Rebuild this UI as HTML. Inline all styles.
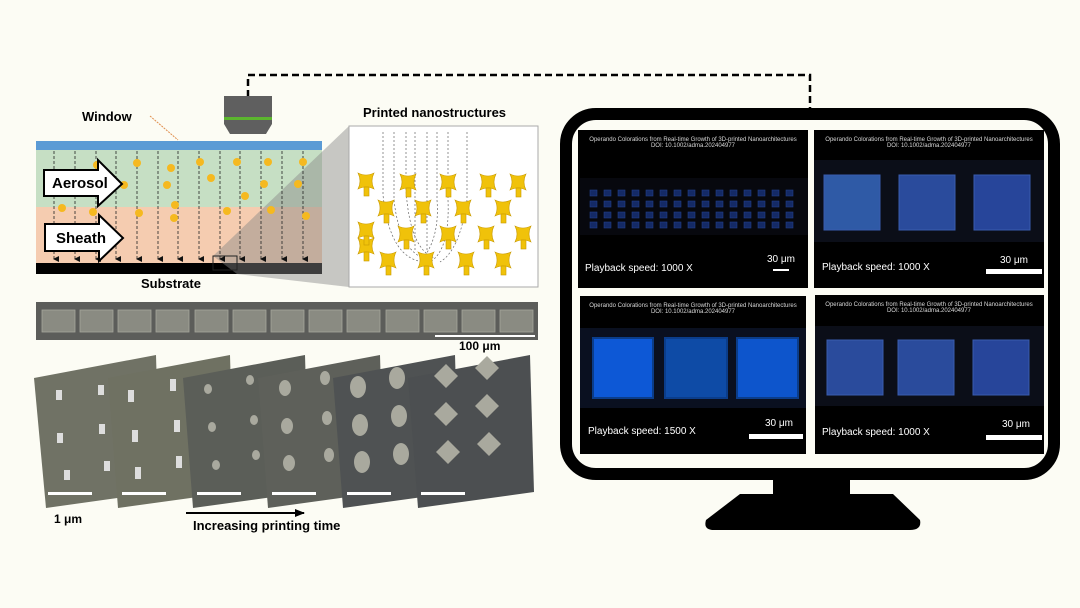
<!DOCTYPE html>
<html><head><meta charset="utf-8"><style>
html,body{margin:0;padding:0;background:#fcfcf4;}
body{width:1080px;height:608px;overflow:hidden;position:relative;font-family:"Liberation Sans",sans-serif;}
svg{position:absolute;left:0;top:0;}
</style></head><body>
<svg width="1080" height="608" viewBox="0 0 1080 608" xmlns="http://www.w3.org/2000/svg" font-family="Liberation Sans, sans-serif">
<defs>
<marker id="ah" markerWidth="6" markerHeight="6" refX="3" refY="5" orient="auto" markerUnits="userSpaceOnUse"><path d="M0,0 L6,0 L3,6 z" fill="#111"/></marker>
<marker id="ar" markerWidth="10" markerHeight="8" refX="9" refY="4" orient="auto" markerUnits="userSpaceOnUse"><path d="M0,0 L10,4 L0,8 z" fill="#000"/></marker>
<g id="s" fill="#f0c20a" stroke="#c99a00" stroke-width="0.6"><path d="M0,0 Q8,4 16,0 Q12,8 16,16 Q8,12 0,16 Q4,8 0,0Z"/><rect x="6" y="14" width="5" height="9"/></g>
</defs>
<!-- dashed connector -->
<path d="M248,97 V75 H810 V108" fill="none" stroke="#000" stroke-width="2.5" stroke-dasharray="7,4"/>
<!-- camera -->
<path d="M224,96 H272 V124 L266,134 H230 L224,124 Z" fill="#5f5f5f"/>
<rect x="224" y="117" width="48" height="3" fill="#5bb52e"/>
<text x="82" y="121" font-size="13" font-weight="bold">Window</text>
<line x1="150" y1="116" x2="178" y2="140" stroke="#e09050" stroke-width="1" stroke-dasharray="2,1"/>
<!-- schematic -->
<rect x="36" y="141" width="286" height="9" fill="#5b9bd5"/>
<rect x="36" y="150" width="286" height="57" fill="#c6dfc4"/>
<rect x="36" y="207" width="286" height="56" fill="#f5ccb0"/>
<rect x="36" y="263" width="286" height="11" fill="#000"/>
<path d="M213,256 L349,126 L349,287 L237,274 Z" fill="#888" opacity="0.45"/>
<rect x="213" y="256" width="24" height="14" fill="none" stroke="#222" stroke-width="1"/>
<g stroke="#222" stroke-width="0.8" stroke-dasharray="3,2" marker-end="url(#ah)">
<line x1="54" y1="151" x2="54" y2="259"/><line x1="75" y1="151" x2="75" y2="259"/><line x1="96" y1="151" x2="96" y2="259"/>
<line x1="116" y1="151" x2="116" y2="259"/><line x1="137" y1="151" x2="137" y2="259"/><line x1="158" y1="151" x2="158" y2="259"/>
<line x1="178" y1="151" x2="178" y2="259"/><line x1="199" y1="151" x2="199" y2="259"/><line x1="220" y1="151" x2="220" y2="259"/>
<line x1="240" y1="151" x2="240" y2="259"/><line x1="261" y1="151" x2="261" y2="259"/><line x1="282" y1="151" x2="282" y2="259"/><line x1="303" y1="151" x2="303" y2="259"/>
</g>
<g fill="#f5b920">
<circle cx="97" cy="165" r="4"/><circle cx="137" cy="163" r="4"/><circle cx="171" cy="168" r="4"/><circle cx="200" cy="162" r="4"/><circle cx="237" cy="162" r="4"/><circle cx="268" cy="162" r="4"/><circle cx="303" cy="162" r="4"/>
<circle cx="124" cy="185" r="4"/><circle cx="167" cy="185" r="4"/><circle cx="211" cy="178" r="4"/><circle cx="264" cy="184" r="4"/><circle cx="298" cy="184" r="4"/><circle cx="245" cy="196" r="4"/>
<circle cx="62" cy="208" r="4"/><circle cx="93" cy="212" r="4"/><circle cx="139" cy="213" r="4"/><circle cx="175" cy="205" r="4"/><circle cx="227" cy="211" r="4"/><circle cx="271" cy="210" r="4"/><circle cx="306" cy="216" r="4"/><circle cx="174" cy="218" r="4"/>
</g>
<path d="M44,170 H98 V160 L122,184 L98,206 V196 H44 Z" fill="#fff" stroke="#000" stroke-width="2"/>
<text x="52" y="188" font-size="15" font-weight="bold">Aerosol</text>
<path d="M45,224 H99 V215 L123,238 L99,261 V251 H45 Z" fill="#fff" stroke="#000" stroke-width="2"/>
<text x="56" y="243" font-size="15" font-weight="bold">Sheath</text>
<text x="141" y="288" font-size="13" font-weight="bold">Substrate</text>
<!-- zoom box -->
<text x="363" y="117" font-size="13" font-weight="bold">Printed nanostructures</text>
<rect x="349" y="126" width="189" height="161" fill="#fff" stroke="#aaa" stroke-width="1"/>
<g stroke="#666" stroke-width="0.7" stroke-dasharray="2,2" fill="none">
<path d="M383,132 V195 Q390,260 425,262"/><path d="M394,132 V200 Q400,255 430,260"/><path d="M406,132 V190 Q410,250 435,258"/>
<path d="M415,132 V250"/><path d="M427,132 V250"/><path d="M437,132 V200 Q440,240 420,262"/><path d="M448,132 V200 Q450,250 430,262"/><path d="M467,132 V200 Q460,250 440,262"/>
</g>
<g>
<use href="#s" x="358" y="238"/>
<use href="#s" x="358" y="173"/><use href="#s" x="400" y="174"/><use href="#s" x="440" y="174"/><use href="#s" x="480" y="174"/><use href="#s" x="510" y="174"/>
<use href="#s" x="378" y="200"/><use href="#s" x="415" y="200"/><use href="#s" x="455" y="200"/><use href="#s" x="495" y="200"/>
<use href="#s" x="398" y="226"/><use href="#s" x="440" y="226"/><use href="#s" x="478" y="226"/><use href="#s" x="515" y="226"/><use href="#s" x="358" y="222"/>
<use href="#s" x="380" y="252"/><use href="#s" x="418" y="252"/><use href="#s" x="458" y="252"/><use href="#s" x="495" y="252"/>
</g>
<!-- SEM strip -->
<rect x="36" y="302" width="502" height="38" fill="#5c5d5a"/>
<g fill="#8a8b82" stroke="#a5a69c" stroke-width="0.8">
<rect x="42" y="310" width="33" height="22"/><rect x="80" y="310" width="33" height="22"/><rect x="118" y="310" width="33" height="22"/><rect x="156" y="310" width="33" height="22"/><rect x="195" y="310" width="33" height="22"/><rect x="233" y="310" width="33" height="22"/><rect x="271" y="310" width="33" height="22"/><rect x="309" y="310" width="33" height="22"/><rect x="347" y="310" width="33" height="22"/><rect x="386" y="310" width="33" height="22"/><rect x="424" y="310" width="33" height="22"/><rect x="462" y="310" width="33" height="22"/><rect x="500" y="310" width="33" height="22"/>
</g>
<rect x="435" y="335" width="100" height="2" fill="#fff"/>
<text x="459" y="350" font-size="12" font-weight="bold">100 μm</text>
<!-- SEM stack -->
<g>
<path d="M34,378 L156,355 L160,492 L46,508 Z" fill="#707265"/>
<path d="M108,378 L230,355 L234,492 L118,508 Z" fill="#6f7162"/>
<path d="M183,378 L305,355 L309,492 L193,508 Z" fill="#5b5e58"/>
<path d="M258,378 L380,355 L384,492 L268,508 Z" fill="#5e605a"/>
<path d="M333,378 L455,355 L459,492 L343,508 Z" fill="#4f5253"/>
<path d="M408,378 L530,355 L534,492 L418,508 Z" fill="#4c4f51"/>
</g>
<g fill="#ddd">
<rect x="56" y="390" width="6" height="10"/><rect x="98" y="385" width="6" height="10"/><rect x="57" y="433" width="6" height="10"/><rect x="99" y="424" width="6" height="10"/><rect x="64" y="470" width="6" height="10"/><rect x="104" y="461" width="6" height="10"/>
<rect x="128" y="390" width="6" height="12"/><rect x="170" y="379" width="6" height="12"/><rect x="132" y="430" width="6" height="12"/><rect x="174" y="420" width="6" height="12"/><rect x="135" y="467" width="6" height="12"/><rect x="176" y="456" width="6" height="12"/>
</g>
<g fill="#a9a99e">
<ellipse cx="208" cy="389" rx="4" ry="5"/><ellipse cx="250" cy="380" rx="4" ry="5"/><ellipse cx="212" cy="427" rx="4" ry="5"/><ellipse cx="254" cy="420" rx="4" ry="5"/><ellipse cx="216" cy="465" rx="4" ry="5"/><ellipse cx="256" cy="455" rx="4" ry="5"/>
<ellipse cx="285" cy="388" rx="6" ry="8"/><ellipse cx="325" cy="378" rx="5" ry="7"/><ellipse cx="287" cy="426" rx="6" ry="8"/><ellipse cx="327" cy="418" rx="5" ry="7"/><ellipse cx="289" cy="463" rx="6" ry="8"/><ellipse cx="329" cy="455" rx="5" ry="7"/>
<ellipse cx="358" cy="387" rx="8" ry="11"/><ellipse cx="397" cy="378" rx="8" ry="11"/><ellipse cx="360" cy="425" rx="8" ry="11"/><ellipse cx="399" cy="416" rx="8" ry="11"/><ellipse cx="362" cy="462" rx="8" ry="11"/><ellipse cx="401" cy="454" rx="8" ry="11"/>
<path d="M434,376 l12,-12 l12,12 l-12,12z"/><path d="M475,368 l12,-12 l12,12 l-12,12z"/><path d="M434,414 l12,-12 l12,12 l-12,12z"/><path d="M475,406 l12,-12 l12,12 l-12,12z"/><path d="M436,452 l12,-12 l12,12 l-12,12z"/><path d="M477,444 l12,-12 l12,12 l-12,12z"/>
</g>
<g fill="#fff">
<rect x="48" y="492" width="44" height="3"/><rect x="122" y="492" width="44" height="3"/><rect x="197" y="492" width="44" height="3"/><rect x="272" y="492" width="44" height="3"/><rect x="347" y="492" width="44" height="3"/><rect x="421" y="492" width="44" height="3"/>
</g>
<text x="54" y="523" font-size="12" font-weight="bold">1 μm</text>
<line x1="186" y1="513" x2="304" y2="513" stroke="#000" stroke-width="2" marker-end="url(#ar)"/>
<text x="193" y="530" font-size="13" font-weight="bold">Increasing printing time</text>
<!-- monitor -->
<rect x="566" y="114" width="488" height="360" rx="30" fill="#fcfcf4" stroke="#000" stroke-width="12"/>
<rect x="773" y="478" width="77" height="16" fill="#000"/>
<path d="M740,494 H893 L920,520 Q922,530 910,530 H714 Q703,530 706,520 Z" fill="#000"/>
<!-- panels -->
<g font-size="6" fill="#d8d8d8" text-anchor="middle">
<rect x="578" y="130" width="230" height="158" fill="#000"/>
<rect x="814" y="130" width="230" height="158" fill="#000"/>
<rect x="580" y="296" width="226" height="158" fill="#000"/>
<rect x="815" y="295" width="229" height="159" fill="#000"/>
<text x="693" y="141">Operando Colorations from Real-time Growth of 3D-printed Nanoarchitectures</text><text x="693" y="147">DOI: 10.1002/adma.202404977</text>
<text x="929" y="141">Operando Colorations from Real-time Growth of 3D-printed Nanoarchitectures</text><text x="929" y="147">DOI: 10.1002/adma.202404977</text>
<text x="693" y="307">Operando Colorations from Real-time Growth of 3D-printed Nanoarchitectures</text><text x="693" y="313">DOI: 10.1002/adma.202404977</text>
<text x="929" y="306">Operando Colorations from Real-time Growth of 3D-printed Nanoarchitectures</text><text x="929" y="312">DOI: 10.1002/adma.202404977</text>
</g>
<rect x="580" y="178" width="228" height="57" fill="#07080e"/>
<g fill="#142a66" stroke="#22408a" stroke-width="0.6" id="grid">
<rect x="590" y="190" width="7" height="6"/><rect x="604" y="190" width="7" height="6"/><rect x="618" y="190" width="7" height="6"/><rect x="632" y="190" width="7" height="6"/><rect x="646" y="190" width="7" height="6"/><rect x="660" y="190" width="7" height="6"/><rect x="674" y="190" width="7" height="6"/><rect x="688" y="190" width="7" height="6"/><rect x="702" y="190" width="7" height="6"/><rect x="716" y="190" width="7" height="6"/><rect x="730" y="190" width="7" height="6"/><rect x="744" y="190" width="7" height="6"/><rect x="758" y="190" width="7" height="6"/><rect x="772" y="190" width="7" height="6"/><rect x="786" y="190" width="7" height="6"/>
</g>
<use href="#grid" y="11"/><use href="#grid" y="22"/><use href="#grid" y="32"/>
<rect x="814" y="160" width="230" height="82" fill="#0b0e18"/>
<rect x="815" y="326" width="229" height="80" fill="#0b0e18"/>
<g fill="#2a4b9c" stroke="#3a5cae" stroke-width="1">
<rect x="824" y="175" width="56" height="55" fill="#2f5aa6"/><rect x="899" y="175" width="56" height="55"/><rect x="974" y="175" width="56" height="55" fill="#27459a"/>
<rect x="827" y="340" width="56" height="55"/><rect x="898" y="340" width="56" height="55"/><rect x="973" y="340" width="56" height="55" fill="#27459a"/>
</g>
<rect x="580" y="328" width="226" height="80" fill="#0a1020"/>
<g stroke="#0b3d8a" stroke-width="2">
<rect x="593" y="338" width="60" height="60" fill="#0d58d6"/><rect x="665" y="338" width="62" height="60" fill="#0e4ba6"/><rect x="737" y="338" width="61" height="60" fill="#0d55cc"/>
</g>
<g font-size="10" fill="#fff">
<text x="585" y="271">Playback speed: 1000 X</text><text x="767" y="262">30 μm</text>
<text x="822" y="270">Playback speed: 1000 X</text><text x="1000" y="263">30 μm</text>
<text x="588" y="434">Playback speed: 1500 X</text><text x="765" y="426">30 μm</text>
<text x="822" y="435">Playback speed: 1000 X</text><text x="1002" y="427">30 μm</text>
</g>
<g fill="#fff">
<rect x="773" y="269" width="16" height="2"/><rect x="986" y="269" width="56" height="5"/><rect x="749" y="434" width="54" height="5"/><rect x="986" y="435" width="56" height="5"/>
</g>
</svg>
</body></html>
